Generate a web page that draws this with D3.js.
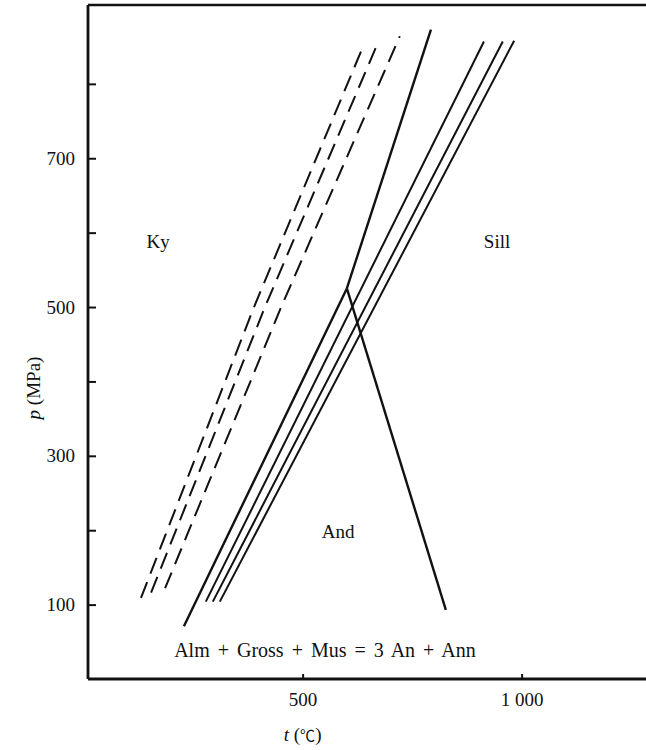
<!DOCTYPE html>
<html>
<head>
<meta charset="utf-8">
<script src="https://cdn.jsdelivr.net/npm/d3@7"></script>
<style>
  html, body { margin: 0; padding: 0; background: #fff; }
  svg { display: block; }
  text { font-family: "Liberation Serif", "Times New Roman", serif; fill: #111; }
</style>
</head>
<body>
<script>
// ---- data (t in °C, p in MPa) ----
const xTickValues = [500, 1000];
const xTickLabels = ["500", "1 000"];
const yTickValues = [100, 200, 300, 400, 500, 600, 700, 800];
const yTickLabels = ["100", "", "300", "", "500", "", "700", ""];

// dashed curves
const dashed1 = [[131, 109], [389, 500], [640, 853]];
const dashed2 = [[154, 116], [414, 500], [674, 858]];
const dashed3 = [[186, 122], [451, 500], [722, 864]];

// solid reaction lines
const lowerLeft  = [[229, 71], [601, 525]];
const steepUpper = [[601, 525], [793, 873]];
const descending = [[601, 525], [827, 93]];
const parallelA  = [[279, 104], [914, 857]];
const parallelB  = [[295, 104], [957, 857]];
const parallelC  = [[311, 104], [983, 858]];

const labelTexts = ["Ky", "Sill", "And", "Alm + Gross + Mus = 3 An + Ann"];
const labelT = [170, 944, 581, 551];
const labelP = [580, 580, 190, 30];

// ---- drawing ----
const W = 646, H = 750;
const svg = d3.select("body").append("svg").attr("width", W).attr("height", H);

const x = d3.scaleLinear().domain([10, 1300]).range([88, 653]);
const y = d3.scaleLinear().domain([0, 906]).range([679, 5]);

const line = d3.line().x(d => x(d[0])).y(d => y(d[1]));

// frame top line
svg.append("line")
  .attr("x1", x(10)).attr("x2", x(1300))
  .attr("y1", y(906)).attr("y2", y(906))
  .attr("stroke", "#111").attr("stroke-width", 2.5);

// axes
const yAxis = d3.axisLeft(y).tickValues(yTickValues)
  .tickSize(-8).tickPadding(13)
  .tickFormat((d, i) => yTickLabels[i]);
const gy = svg.append("g").attr("transform", `translate(${x(10)},0)`).call(yAxis);

const xAxis = d3.axisBottom(x).tickValues(xTickValues)
  .tickSize(-5).tickPadding(14)
  .tickFormat((d, i) => xTickLabels[i]);
const gx = svg.append("g").attr("transform", `translate(0,${y(0)})`).call(xAxis);

[gx, gy].forEach(g => {
  g.select(".domain").attr("stroke", "#111").attr("stroke-width", 2.8);
  g.selectAll(".tick line").attr("stroke", "#111").attr("stroke-width", 2);
  g.selectAll(".tick text")
    .style("font-family", '"Liberation Serif", serif')
    .style("font-size", "19px").attr("fill", "#111");
});
gy.select(".domain").attr("d", `M0,${y(906)}V${y(0)}`);
gx.select(".domain").attr("d", `M${x(10)},0H${x(1300)}`);

// dashed curves
[dashed1, dashed2, dashed3].forEach(c => {
  svg.append("path").attr("d", line(c))
    .attr("fill", "none").attr("stroke", "#111")
    .attr("stroke-width", 2).attr("stroke-dasharray", "17,9");
});

// solid lines
[lowerLeft, steepUpper, descending].forEach(c => {
  svg.append("path").attr("d", line(c))
    .attr("fill", "none").attr("stroke", "#111")
    .attr("stroke-width", 2.4).attr("stroke-linejoin", "miter");
});
[parallelA, parallelB, parallelC].forEach(c => {
  svg.append("path").attr("d", line(c))
    .attr("fill", "none").attr("stroke", "#111")
    .attr("stroke-width", 2);
});

// region labels
labelTexts.forEach((t, i) => {
  svg.append("text")
    .attr("x", x(labelT[i])).attr("y", y(labelP[i]))
    .attr("text-anchor", "middle")
    .style("font-size", i === 3 ? "20px" : "19px")
    .style("word-spacing", i === 3 ? "3px" : "0px")
    .text(t);
});

// axis titles
const yt = svg.append("text")
  .attr("transform", `translate(40,388) rotate(-90)`)
  .attr("text-anchor", "middle")
  .style("font-size", "19px");
yt.append("tspan").style("font-style", "italic").text("p");
yt.append("tspan").text(" (MPa)");

const xt = svg.append("text")
  .attr("x", x(500)).attr("y", 741)
  .attr("text-anchor", "middle")
  .style("font-size", "19px");
xt.append("tspan").style("font-style", "italic").text("t");
xt.append("tspan").text(" (");
xt.append("tspan").style("font-family", '"Noto Sans CJK SC", "DejaVu Sans", sans-serif').style("font-size", "15px").text("℃");
xt.append("tspan").text(")");
</script>
</body>
</html>
